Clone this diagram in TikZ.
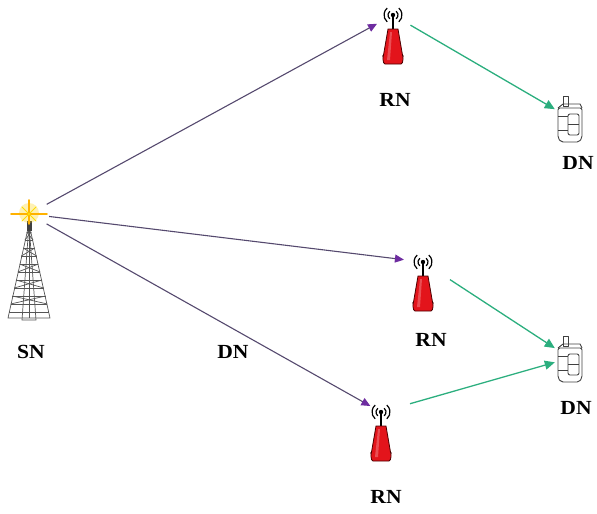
\documentclass[tikz,border=0pt]{standalone}
\usepackage{fontspec}
\setmainfont{Liberation Serif}
\usetikzlibrary{arrows.meta}
\definecolor{linkpurple}{HTML}{55496E}
\definecolor{tippurple}{HTML}{6E2CA0}
\definecolor{linkgreen}{HTML}{2BAE7E}
\definecolor{relayred}{HTML}{E3141B}
\definecolor{towergray}{HTML}{555555}
\begin{document}
\begin{tikzpicture}[x=1pt,y=-1pt,
  lbl/.style={font=\bfseries\fontsize{20}{20}\selectfont, inner sep=0pt, xscale=1.08},
  hub/.style={circle, minimum size=40pt, inner sep=0pt},
  dev/.style={rectangle, minimum width=30pt, minimum height=50pt, inner sep=0pt},
  firsthop/.style={draw=linkpurple, line width=1.1pt,
    -{Triangle[length=9pt,width=8pt,fill=tippurple,color=tippurple]}},
  secondhop/.style={draw=linkgreen, line width=1.3pt,
    -{Triangle[length=10pt,width=9pt,fill=linkgreen,color=linkgreen]}},
  relay/.pic={
    % radio waves around the antenna head
    \foreach \r in {5,9}{
      \draw[line width=1.2pt] (230:\r pt) arc[start angle=230,end angle=130,radius=\r pt];
      \draw[line width=1.2pt] (-50:\r pt) arc[start angle=-50,end angle=50,radius=\r pt];
    }
    \fill (0,0) circle (2.2pt);
    \draw[line width=1.6pt] (0,0) -- (0,16);
    % red body
    \draw[fill=relayred, draw=black!70!red, line width=0.8pt]
      (-5,14) -- (5,14) -- (10,43) to[out=90,in=0] (8,49) -- (-8,49) to[out=180,in=90] (-10,43) -- cycle;
    \fill[white, opacity=0.25] (-3,17) -- (-1,17) -- (-3,45) -- (-6,45) -- cycle;
  },
  handset/.pic={
    \begin{scope}[draw=black!75, line width=0.9pt, line join=round]
      \draw (-7,-22) rectangle (-2,-12);
      \draw (-12,-10) -- (-7,-14) -- (10,-14) -- (12,-10);
      \draw[rounded corners=2pt] (-12,-10) -- (12,-10) -- (12,20) -- (9,24) -- (-9,24) -- (-12,20) -- cycle;
      \draw[rounded corners=2pt] (-2,-4) rectangle (9,17);
      \draw (-12,-2) -- (-2,-2);
      \draw (-12,12) -- (-2,12);
      \draw (-2,6) -- (9,6);
    \end{scope}
  },
  mast/.pic={
    \begin{scope}[draw=towergray, line width=0.7pt]
      \draw (0,2) -- (-21,96) -- (21,96) -- cycle;
      \draw (0,2) -- (-7,98) -- (7,98) -- cycle;
      \draw (0,2) -- (0,96);
      \foreach \h in {10,18,...,90}{
        \draw (-\h*21/94,\h) -- (\h*21/94,\h);
      }
      \foreach \h in {10,26,...,82}{
        \draw (-\h*21/94,\h) -- (\h*21/94+1.8,\h+8);
        \draw (\h*21/94,\h) -- (-\h*21/94-1.8,\h+8);
      }
    \end{scope}
    \fill[black!75] (-2.5,-1) rectangle (2.5,9);
  }
]
\useasboundingbox (0,0) rectangle (597,514);

% source node: lattice tower with a sparkle
\pic at (29,222) {mast};
\fill[yellow!70!orange, opacity=0.3] (29,213) circle (10pt);
\draw[orange!60!yellow, line width=1.6pt, line cap=round] (11,214) -- (47,214);
\draw[orange!60!yellow, line width=1.6pt, line cap=round] (29,200) -- (29,224);
\draw[yellow!80!orange, line width=1pt, line cap=round] (22,207) -- (36,221) (22,221) -- (36,207);
\node[hub] (sn) at (29,214) {};
\node[lbl] (snlbl) at (31,352) {SN};

% relay nodes
\pic at (393,15) {relay};
\node[hub] (rn1) at (393,15) {};
\node[lbl] (rn1lbl) at (395,100) {RN};

\pic at (423,262) {relay};
\node[hub] (rn2) at (423,262) {};
\node[lbl] (rn2lbl) at (431,340) {RN};

\pic at (381,412) {relay};
\node[hub] (rn3) at (381,412) {};
\node[lbl] (rn3lbl) at (386,497) {RN};

% destination handsets
\pic at (570,118) {handset};
\node[dev] (dn1) at (570,118) {};
\node[lbl] (dn1lbl) at (578,163) {DN};

\pic at (570,358) {handset};
\node[dev] (dn2) at (570,358) {};
\node[lbl] (dn2lbl) at (576,408) {DN};

\node[lbl] (dnmid) at (233,352) {DN};

% first hop: source to relays
\draw[firsthop, shorten >=-2pt] (sn) -- (rn1);
\draw[firsthop, shorten >=-1pt] (sn) -- (rn2);
\draw[firsthop, shorten >=-8pt] (sn) -- (rn3);

% second hop: relays to destinations
\draw[secondhop] (rn1) -- (dn1);
\draw[secondhop, shorten <=12pt] (rn2) -- (dn2);
\draw[secondhop, shorten <=10pt] (rn3) -- (dn2);
\end{tikzpicture}
\end{document}
